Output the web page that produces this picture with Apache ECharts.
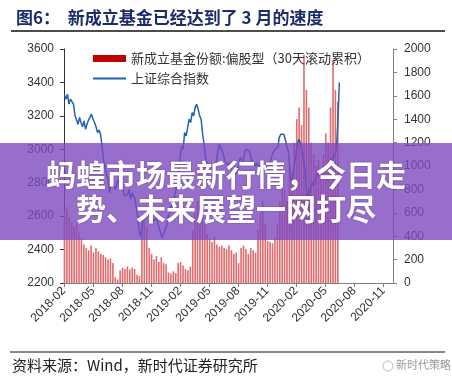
<!DOCTYPE html>
<html><head><meta charset="utf-8">
<script src="https://cdn.jsdelivr.net/npm/echarts@6/dist/echarts.min.js"></script>
<style>html,body{margin:0;padding:0;background:#fff}#c{width:452px;height:384px}</style>
</head><body><div id="c"></div>
<script>
// Tick labels
const leftTicks = [2200, 2400, 2600, 2800, 3000, 3200, 3400, 3600];
const rightTicks = [0, 200, 400, 600, 800, 1000, 1200, 1400, 1600, 1800, 2000];
const xTickLabels = ['2018-02','2018-05','2018-08','2018-11','2019-02','2019-05','2019-08','2019-11','2020-02','2020-05','2020-08','2020-11'];
const seriesNames = ['新成立基金份额:偏股型（30天滚动累积）', '上证综合指数'];

// Weekly new equity-fund shares (30-day rolling), first week starts at month offset 0.05, steps of 0.25 month
const barStart = 0.05, barStep = 0.25;
const fundValues = [600,650,560,520,480,500,430,380,330,300,280,320,260,300,270,250,240,220,200,210,
  170,50,30,110,130,120,140,115,130,120,70,60,500,540,480,300,250,200,230,180,
  220,170,160,90,80,100,85,170,180,150,120,110,140,450,600,700,650,550,500,420,
  380,350,400,330,310,320,300,290,320,280,250,260,170,300,320,290,250,300,280,260,
  450,600,700,500,360,350,340,380,500,700,900,800,700,1000,900,1200,1400,1500,1350,1950,
  1650,1500,1200,1100,1000,1050,900,1100,1280,1200,1500,1900,1650,1550];

// Shanghai Composite, sampled every 0.155 month from month offset 0.05
const lineStart = 0.05, lineStep = 0.1552;
const sseValues = [3325,3300,3330,3270,3300,3310,3270,3200,3190,3150,3190,3160,3135,3170,3120,3150,3175,3165,3210,3180,
  3160,3135,3100,3115,3090,3020,2940,2890,2850,2820,2740,2790,2800,2780,2760,2800,2820,2770,2790,2760,
  2720,2710,2730,2760,2700,2740,2720,2700,2640,2580,2500,2480,2560,2600,2580,2640,2610,2580,2600,2570,
  2560,2590,2560,2530,2500,2470,2490,2520,2540,2600,2620,2660,2680,2700,2750,2800,2830,2950,3020,3000,
  3100,3080,3090,3180,3160,3220,3200,3250,3270,3240,3200,3180,3090,3030,2950,2900,2880,2890,2860,2900,
  2870,2920,2980,3030,3010,2990,2960,2930,2940,2900,2920,2880,2930,2900,2850,2880,2900,2950,2960,2930,
  2980,3000,3010,2990,2960,2930,2940,2900,2920,2890,2910,2880,2870,2890,2910,2880,2900,2920,2960,2980,
  3000,2990,3010,3070,3090,3100,3090,3060,3020,2990,2980,2800,2850,2900,2960,3030,3060,3040,2990,2950,
  2880,2780,2700,2740,2770,2800,2780,2820,2840,2860,2870,2880,2870,2890,2880,2900,2910,2920,2930,2950,
  2970,3000,3150,3400];

const barData = fundValues.map((v, i) => [barStart + i * barStep, v]);
const lineData = sseValues.map((v, i) => [lineStart + i * lineStep, v]);

const chart = echarts.init(document.getElementById('c'), null, {renderer: 'canvas'});
const cjk = '"Noto Sans CJK SC", sans-serif';
const plain = v => String(v);
chart.setOption({
  animation: false,
  backgroundColor: '#fff',
  title: {
    text: '图6：  新成立基金已经达到了 3 月的速度',
    left: 11, top: 4,
    textStyle: {fontSize: 17, fontWeight: 'bold', color: '#1b2c6b', fontFamily: cjk}
  },
  legend: [{
    orient: 'vertical', left: 88, top: 47, itemWidth: 33, itemHeight: 7,
    textStyle: {fontSize: 13, color: '#333', fontFamily: cjk},
    data: [{name: seriesNames[0], icon: 'rect', itemStyle: {color: '#c00000'}}]
  }, {
    orient: 'vertical', left: 88, top: 67, itemWidth: 33, itemHeight: 2,
    textStyle: {fontSize: 13, color: '#333', fontFamily: cjk},
    data: [{name: seriesNames[1], icon: 'rect', itemStyle: {color: '#2064b0'}}]
  }],
  grid: {left: 64, right: 59, top: 49, bottom: 101},
  xAxis: {
    type: 'value', min: 0, max: 34, interval: 3,
    axisLine: {lineStyle: {color: '#7f7f7f'}},
    axisTick: {show: true, length: 4, lineStyle: {color: '#7f7f7f'}},
    splitLine: {show: false},
    axisLabel: {
      rotate: 45, fontSize: 12, color: '#333', margin: 6, fontFamily: '"Liberation Sans", Arial',
      showMaxLabel: false,
      formatter: v => { const k = Math.round(v / 3); return (Math.abs(v - k * 3) < 1e-6 && xTickLabels[k]) ? xTickLabels[k] : ''; }
    }
  },
  yAxis: [{
    type: 'value', min: leftTicks[0], max: leftTicks[leftTicks.length - 1], interval: 200, position: 'left',
    axisLine: {show: true, lineStyle: {color: '#333'}},
    axisTick: {show: true, length: 4, lineStyle: {color: '#333'}},
    splitLine: {show: false},
    axisLabel: {fontSize: 12, color: '#333', margin: 10, fontFamily: '"Liberation Sans", Arial', formatter: plain}
  }, {
    type: 'value', min: rightTicks[0], max: rightTicks[rightTicks.length - 1], interval: 200, position: 'right',
    axisLine: {show: true, lineStyle: {color: '#7f7f7f'}},
    axisTick: {show: true, length: 4, lineStyle: {color: '#7f7f7f'}},
    splitLine: {show: false},
    axisLabel: {fontSize: 12, color: '#333', margin: 11, fontFamily: '"Liberation Sans", Arial', formatter: plain}
  }],
  series: [{
    name: seriesNames[0], type: 'bar', yAxisIndex: 1, data: barData, barWidth: 1.6,
    itemStyle: {color: '#e06a6c'}, z: 2
  }, {
    name: seriesNames[1], type: 'line', yAxisIndex: 0, data: lineData, symbol: 'none', showSymbol: false,
    lineStyle: {color: '#2064b0', width: 1.5}, itemStyle: {color: '#2064b0'}, z: 3
  }],
  graphic: [
    {type: 'line', z: 50, shape: {x1: 11, y1: 31, x2: 445, y2: 31}, style: {stroke: '#111', lineWidth: 1.5}},
    {type: 'line', z: 50, shape: {x1: 10, y1: 352, x2: 445, y2: 352}, style: {stroke: '#111', lineWidth: 1}},
    {type: 'text', z: 50, left: 12, top: 358, style: {text: '资料来源：Wind，新时代证券研究所', font: '15px ' + cjk, fill: '#222'}},
    {type: 'circle', z: 50, shape: {cx: 388, cy: 366, r: 5}, style: {fill: 'none', stroke: '#bbb', lineWidth: 1}},
    {type: 'text', z: 50, left: 396, top: 359, style: {text: '新时代策略', font: '11px ' + cjk, fill: '#9a9a9a'}},
    {type: 'rect', z: 100, shape: {x: 0, y: 143, width: 452, height: 97}, style: {fill: 'rgba(126,74,192,0.8)'}},
    {type: 'text', z: 101, left: 'center', top: 160, style: {text: '蚂蝗市场最新行情，今日走', font: 'bold 30px ' + cjk, fill: '#fff', textShadowColor: 'rgba(0,0,0,0.35)', textShadowBlur: 2}},
    {type: 'text', z: 101, left: 'center', top: 194, style: {text: '势、未来展望一网打尽', font: 'bold 30px ' + cjk, fill: '#fff', textShadowColor: 'rgba(0,0,0,0.35)', textShadowBlur: 2}}
  ]
});
</script></body></html>
